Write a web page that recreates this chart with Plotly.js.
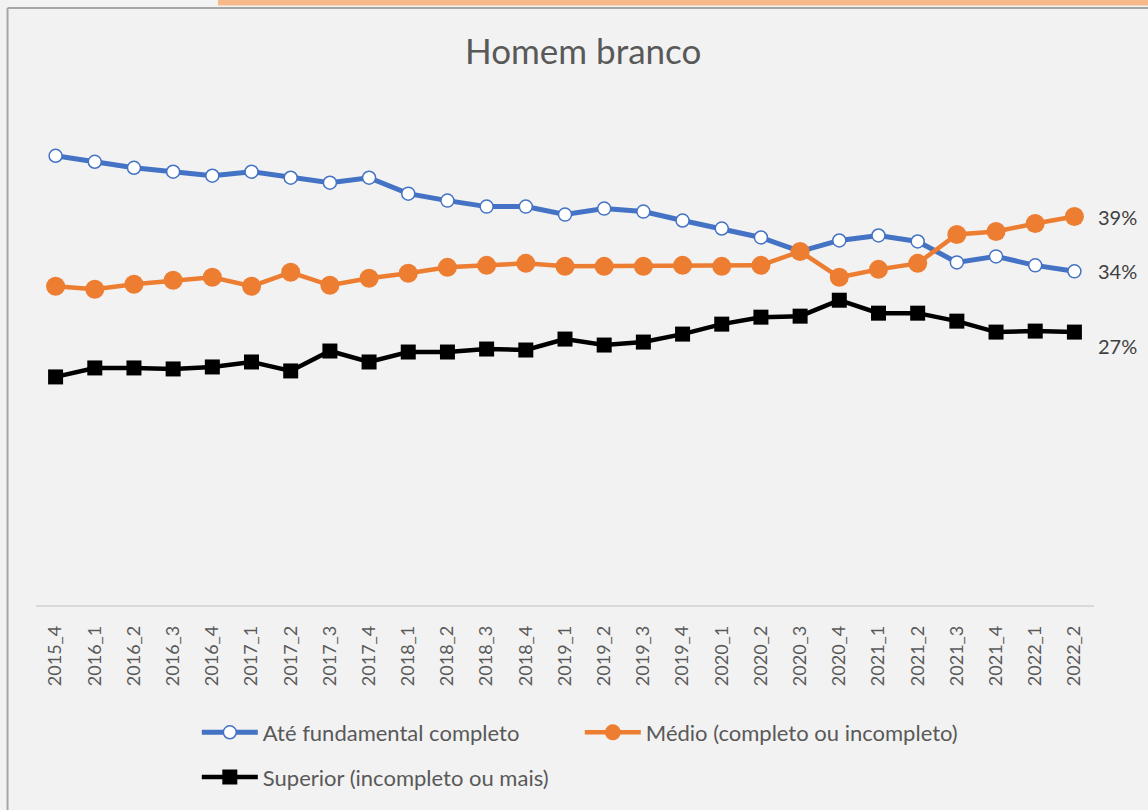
<!DOCTYPE html>
<html>
<head>
<meta charset="utf-8">
<script src="https://cdn.plot.ly/plotly-3.0.1.min.js"></script>
<style>
  html, body { margin: 0; padding: 0; background: #f2f2f2; }
  #chart { width: 1148px; height: 810px; }
</style>
</head>
<body>
<div id="chart"></div>
<script>
const categories = ["2015_4","2016_1","2016_2","2016_3","2016_4","2017_1","2017_2","2017_3","2017_4",
  "2018_1","2018_2","2018_3","2018_4","2019_1","2019_2","2019_3","2019_4",
  "2020_1","2020_2","2020_3","2020_4","2021_1","2021_2","2021_3","2021_4","2022_1","2022_2"];

const fundamental = [45.1, 44.5, 43.9, 43.5, 43.1, 43.5, 42.9, 42.4, 42.9,
  41.3, 40.6, 40.0, 40.0, 39.2, 39.8, 39.5, 38.6,
  37.8, 36.9, 35.5, 36.6, 37.1, 36.5, 34.4, 35.0, 34.1, 33.5];

const medio = [32.0, 31.7, 32.2, 32.6, 32.9, 32.0, 33.4, 32.1, 32.8,
  33.3, 33.9, 34.1, 34.3, 34.0, 34.0, 34.0, 34.1,
  34.0, 34.1, 35.5, 32.9, 33.7, 34.3, 37.2, 37.5, 38.3, 39.0];

const superior = [22.9, 23.8, 23.8, 23.7, 23.9, 24.4, 23.5, 25.5, 24.4,
  25.4, 25.4, 25.7, 25.6, 26.7, 26.1, 26.4, 27.2,
  28.2, 28.9, 29.0, 30.6, 29.3, 29.3, 28.5, 27.4, 27.5, 27.4];

const seriesNames = ["Até fundamental completo", "Médio (completo ou incompleto)", "Superior (incompleto ou mais)"];

const FONT = "Lato, 'Open Sans', sans-serif";

const traces = [
  {
    x: categories, y: fundamental, name: seriesNames[0], type: "scatter", mode: "lines+markers",
    line: { color: "#4472C4", width: 5 },
    marker: { symbol: "circle", size: 13, color: "#FFFFFF", line: { color: "#4472C4", width: 1.5 } },
    legend: "legend"
  },
  {
    x: categories, y: medio, name: seriesNames[1], type: "scatter", mode: "lines+markers",
    line: { color: "#ED7D31", width: 4.5 },
    marker: { symbol: "circle", size: 19, color: "#ED7D31" },
    legend: "legend"
  },
  {
    x: categories, y: superior, name: seriesNames[2], type: "scatter", mode: "lines+markers",
    line: { color: "#000000", width: 4.5 },
    marker: { symbol: "square", size: 15, color: "#000000" },
    legend: "legend2"
  }
];

const last = categories.length - 1;
const labelAnn = (vals, yshift) => ({
  x: categories[last], y: vals[last], xref: "x", yref: "y",
  text: Math.round(vals[last]) + "%", showarrow: false,
  xanchor: "left", xshift: 22, yshift: yshift,
  font: { family: FONT, size: 20, color: "#404040" }
});

const legendBase = {
  orientation: "h", xanchor: "left", yanchor: "middle",
  font: { family: FONT, size: 22, color: "#595959" },
  itemwidth: 56, entrywidth: 312,
  bgcolor: "rgba(0,0,0,0)"
};

const layout = {
  width: 1148, height: 810,
  paper_bgcolor: "#f2f2f2", plot_bgcolor: "#f2f2f2",
  margin: { l: 36, r: 54, t: 107, b: 203 },
  title: { text: "Homem branco", x: 0.508, xanchor: "center", y: 0.936, yanchor: "middle",
           font: { family: FONT, size: 35, color: "#595959" } },
  xaxis: {
    type: "category", range: [-0.5, categories.length - 0.5],
    tickangle: -90, showgrid: false, zeroline: false,
    showline: true, linecolor: "#d9d9d9", linewidth: 1.5, ticks: "",
    tickfont: { family: FONT, size: 18, color: "#595959" }, ticklabelstandoff: 12
  },
  yaxis: { range: [0, 50], visible: false, showgrid: false, zeroline: false },
  showlegend: true,
  legend: Object.assign({}, legendBase, { x: 0.152, y: -0.256 }),
  legend2: Object.assign({}, legendBase, { x: 0.152, y: -0.346 }),
  annotations: [
    labelAnn(medio, 0),
    labelAnn(fundamental, 0),
    labelAnn(superior, -14)
  ],
  shapes: [
    { type: "line", xref: "paper", yref: "paper", x0: -0.0269, x1: 1.06, y0: 1.199, y1: 1.199,
      line: { color: "#a6a6a6", width: 2 } },
    { type: "line", xref: "paper", yref: "paper", x0: -0.0269, x1: -0.0269, y0: 1.199, y1: -0.42,
      line: { color: "#a6a6a6", width: 2 } },
    { type: "rect", xref: "paper", yref: "paper", x0: 0.172, x1: 1.06, y0: 1.204, y1: 1.22,
      fillcolor: "#f8b98a", line: { width: 0 } }
  ]
};

Plotly.newPlot("chart", traces, layout, { displayModeBar: false, staticPlot: true });
</script>
</body>
</html>
